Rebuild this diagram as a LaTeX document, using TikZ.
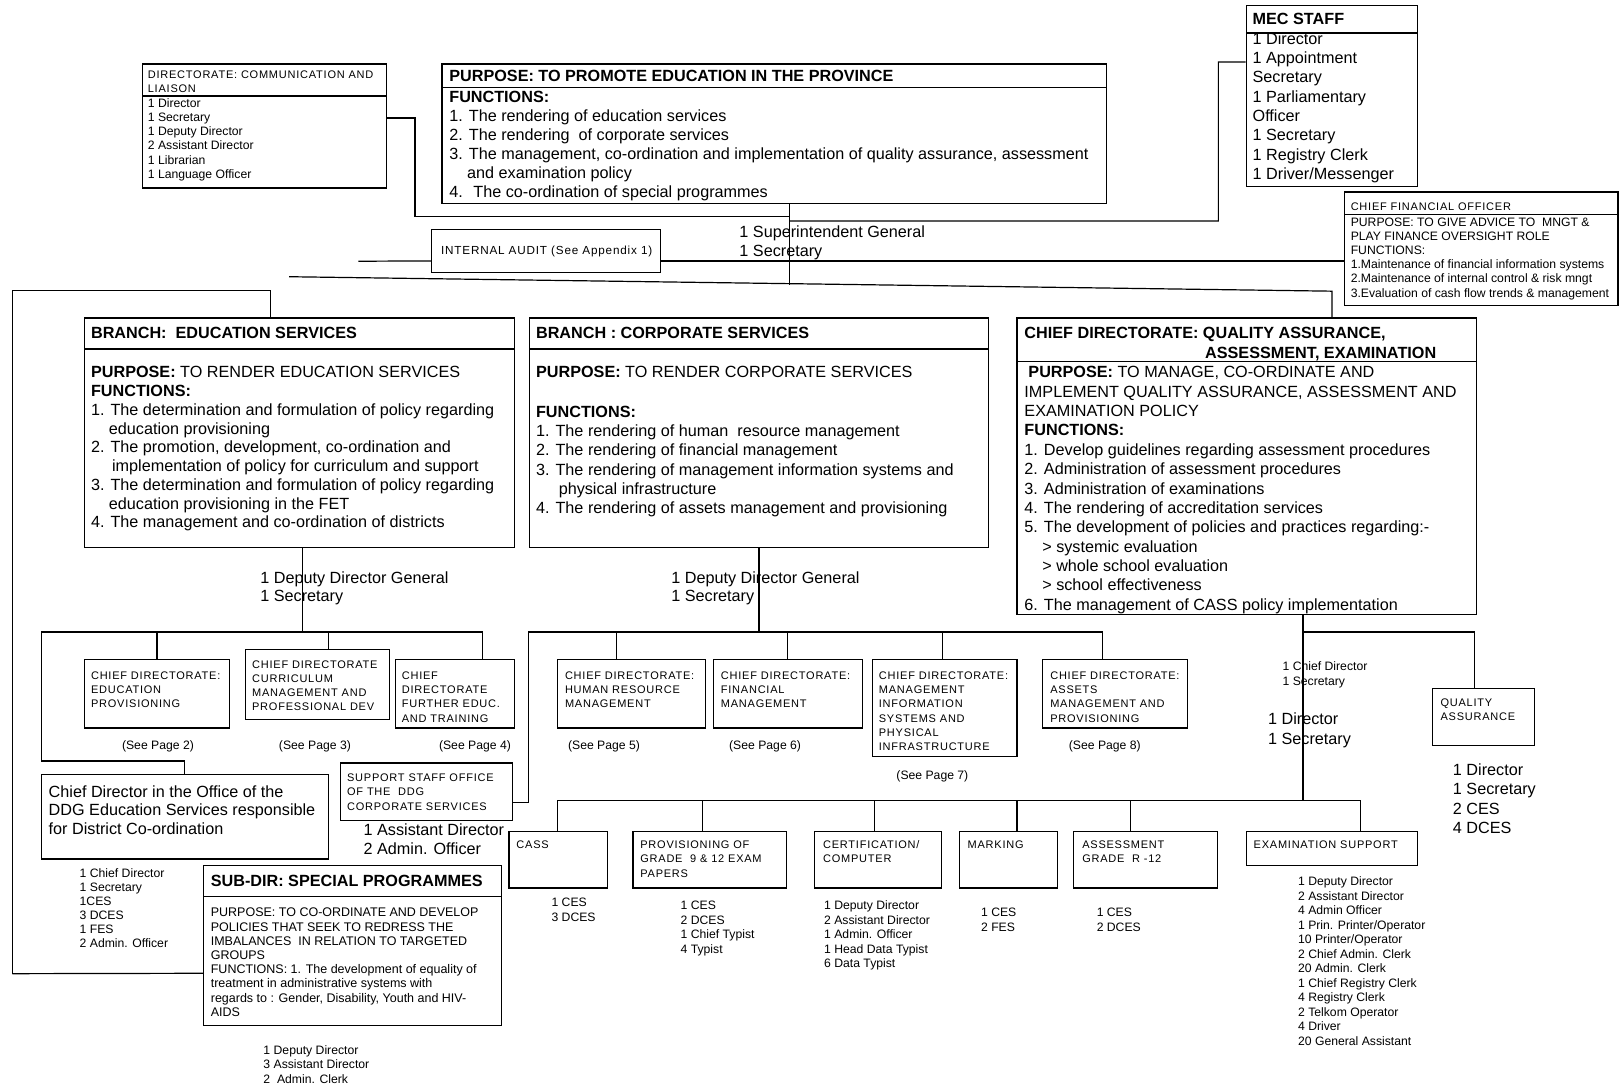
\documentclass[tikz,border=0pt]{standalone}
\usepackage{fontspec}
\setmainfont{Liberation Sans}
\newfontfamily\capsfam[LetterSpace=7]{Liberation Sans}
\usetikzlibrary{fit}
\newcommand\bsz[1]{\fontsize{16.2}{#1}\selectfont}
\newcommand\bodyfont{\bsz{19.4}}
\newcommand\smfont{\fontsize{12.2}{14.5}\selectfont}
\newcommand\capfont{\capsfam\fontsize{11}{14.2}\selectfont}
\newcommand\ml[1]{\begin{tabular}[t]{@{}l@{}}#1\end{tabular}}
\begin{document}
\begin{tikzpicture}[x=1.0325pt,y=-1.0325pt,
  box/.style={draw, line width=1.2pt, inner sep=0pt},
  ln/.style={line width=1.2pt},
  tx/.style={anchor=base west, inner sep=0pt, font=\bodyfont},
  sm/.style={anchor=base west, inner sep=0pt, font=\smfont},
  cp/.style={anchor=base west, inner sep=0pt, font=\capfont},
  pg/.style={anchor=base, inner sep=0pt, font=\smfont},
]
\useasboundingbox (0,0) rectangle (1568,1054);

% ---------- top row ----------
\node[box, fit={(138,62)(374,182)}] (comm) {};
\draw[ln] (138,93) -- (374,93);
\node[cp] (commh) at (143,76) {\ml{DIRECTORATE: COMMUNICATION AND\\LIAISON}};
\node[sm,font=\fontsize{12.2}{14.2}\selectfont] (commt) at (143,104) {\ml{1 Director\\1 Secretary\\1 Deputy Director\\2 Assistant Director\\1 Librarian\\1 Language Officer}};

\node[box, fit={(428,62)(1072,197)}] (purpose) {};
\draw[ln] (428,85) -- (1072,85);
\node[tx] (purh) at (435,79) {\bfseries PURPOSE: TO PROMOTE EDUCATION IN THE PROVINCE};
\node[tx,font=\bsz{19.1}] (purt) at (435,99) {\ml{\textbf{FUNCTIONS:}\\1. The rendering of education services\\2. The rendering \ of corporate services\\3. The management, co-ordination and implementation of quality assurance, assessment\\\hspace*{1.1em}and examination policy\\4. \ The co-ordination of special programmes}};

\node[box, fit={(1207,5)(1373,181)}] (mec) {};
\draw[ln] (1207,32) -- (1373,32);
\node[tx] (mech) at (1213,24) {\bfseries MEC STAFF};
\node[tx,font=\bsz{19.3}] (mect) at (1213,43) {\ml{1 Director\\1 Appointment\\Secretary\\1 Parliamentary\\Officer\\1 Secretary\\1 Registry Clerk\\1 Driver/Messenger}};

\node[box, fit={(418,222)(640,264)}] (audit) {};
\node[cp,font=\capsfam\fontsize{11.7}{14}\selectfont] (auditt) at (427,246) {INTERNAL AUDIT (See Appendix 1)};

\node[tx,font=\bsz{19}] (sg) at (716,230) {\ml{1 Superintendent General\\1 Secretary}};

\node[box, fit={(1302,186)(1567,296)}] (cfo) {};
\draw[ln] (1302,208) -- (1567,208);
\node[cp] (cfoh) at (1308,204) {CHIEF FINANCIAL OFFICER};
\node[sm,font=\fontsize{12.2}{14.2}\selectfont] (cfot) at (1308,219) {\ml{PURPOSE: TO GIVE ADVICE TO \ MNGT \&\\PLAY FINANCE OVERSIGHT ROLE\\FUNCTIONS:\\1.Maintenance of financial information systems\\2.Maintenance of internal control \& risk mngt\\3.Evaluation of cash flow trends \& management}};

% top connectors
\coordinate (mvtop) at (765,197);
\coordinate (mvbot) at (765,276);
\draw[ln] (mvtop) -- (mvbot);
\draw[ln] ([yshift=8pt]comm.east) -| (402,210) -- (765,210);
\draw[ln] (765,214) -| (1180,60) -- ([yshift=34pt]mec.west);
\draw[ln] (347,253) -- ([yshift=-10pt]audit.west);
\draw[ln] ([yshift=-10pt]audit.east) -- ([yshift=-10pt]audit.east -| cfo.west);
\draw[ln] (280,268) -- (1290,282) -- (1290,308);
\draw[ln] (12,943) -- (12,281) -- (262,281) -- (262,308);

% ---------- branches ----------
\node[box, fit={(82,308)(498,530)}] (edu) {};
\draw[ln] (82,338) -- (498,338);
\node[tx] (eduh) at (88,328) {\bfseries BRANCH: \ EDUCATION SERVICES};
\node[tx,font=\bsz{18.75}] (edut) at (88,366) {\ml{\textbf{PURPOSE:} TO RENDER EDUCATION SERVICES\\\textbf{FUNCTIONS:}\\1. The determination and formulation of policy regarding\\\hspace*{1.1em}education provisioning\\2. The promotion, development, co-ordination and\\\hspace*{1.3em}implementation of policy for curriculum and support\\3. The determination and formulation of policy regarding\\\hspace*{1.1em}education provisioning in the FET\\4. The management and co-ordination of districts}};

\node[box, fit={(513,308)(957,530)}] (corp) {};
\draw[ln] (513,338) -- (957,338);
\node[tx] (corph) at (519,328) {\bfseries BRANCH : CORPORATE SERVICES};
\node[tx] (corpp) at (519,366) {\textbf{PURPOSE:} TO RENDER CORPORATE SERVICES};
\node[tx,font=\bsz{19.35}] (corpt) at (519,404) {\ml{\textbf{FUNCTIONS:}\\1. The rendering of human \ resource management\\2. The rendering of financial management\\3. The rendering of management information systems and\\\hspace*{1.4em}physical infrastructure\\4. The rendering of assets management and provisioning}};

\node[box, fit={(985,308)(1430,595)}] (qa) {};
\draw[ln] (985,350) -- (1430,350);
\node[tx] (qah1) at (992,328) {\bfseries CHIEF DIRECTORATE: QUALITY ASSURANCE,};
\node[tx] (qah2) at (1167,347) {\bfseries ASSESSMENT, EXAMINATION};
\node[tx,font=\bsz{19.35}] (qat) at (992,366) {\ml{\hspace*{4pt}\textbf{PURPOSE:} TO MANAGE, CO-ORDINATE AND\\IMPLEMENT QUALITY ASSURANCE, ASSESSMENT AND\\EXAMINATION POLICY\\\textbf{FUNCTIONS:}\\1. Develop guidelines regarding assessment procedures\\2. Administration of assessment procedures\\3. Administration of examinations\\4. The rendering of accreditation services\\5. The development of policies and practices regarding:-\\\hspace*{1.1em}> systemic evaluation\\\hspace*{1.1em}> whole school evaluation\\\hspace*{1.1em}> school effectiveness\\6. The management of CASS policy implementation}};

% ---------- education services subtree ----------
\node[tx,font=\bsz{18.6}] (edudg) at (252,565) {\ml{1 Deputy Director General\\1 Secretary}};
\draw[ln] (293,530) -- (293,612);
\draw[ln] (40,612) -- (468,612);
\node[box, fit={(82,639)(222,705)}] (edprov) {};
\node[box, fit={(238,629)(377,697)}] (curr) {};
\node[box, fit={(383,639)(498,705)}] (fet) {};
\draw[ln] (152,612) -- (152,639);
\draw[ln] (318,612) -- (318,629);
\draw[ln] (467,612) -- (467,639);
\node[cp] (edprovt) at (88,658) {\ml{CHIEF DIRECTORATE:\\EDUCATION\\PROVISIONING}};
\node[cp] (currt) at (244,647) {\ml{CHIEF DIRECTORATE\\CURRICULUM\\MANAGEMENT AND\\PROFESSIONAL DEV}};
\node[cp] (fett) at (389,658) {\ml{CHIEF\\DIRECTORATE\\FURTHER EDUC.\\AND TRAINING}};
\node[pg] (p2) at (153,726) {(See Page 2)};
\node[pg] (p3) at (305,726) {(See Page 3)};
\node[pg] (p4) at (460,726) {(See Page 4)};

\node[box, fit={(40,750)(318,832)}] (cdo) {};
\draw[ln] (40,612) -- (40,737) -- (179,737) -- (179,750);
\node[tx,font=\bsz{18.6}] (cdot) at (47,772) {\ml{Chief Director in the Office of the\\DDG Education Services responsible\\for District Co-ordination}};
\node[sm,font=\fontsize{12.2}{14}\selectfont] (cdos) at (77,850) {\ml{1 Chief Director\\1 Secretary\\1CES\\3 DCES\\1 FES\\2 Admin. Officer}};

\node[box, fit={(197,838)(486,993)}] (subdir) {};
\draw[ln] (197,868) -- (486,868);
\node[tx,font=\bfseries\fontsize{16.2}{18}\selectfont] (subdirh) at (204,859) {SUB-DIR: SPECIAL PROGRAMMES};
\node[sm,font=\fontsize{12.5}{14.2}\selectfont] (subdirt) at (204,888) {\ml{PURPOSE: TO CO-ORDINATE AND DEVELOP\\POLICIES THAT SEEK TO REDRESS THE\\IMBALANCES \ IN RELATION TO TARGETED\\GROUPS\\FUNCTIONS: 1. The development of equality of\\treatment in administrative systems with\\regards to : Gender, Disability, Youth and HIV-\\AIDS}};
\draw[ln] (12,943) -- ([yshift=-28pt]subdir.west);
\node[sm] (subdirs) at (255,1021) {\ml{1 Deputy Director\\3 Assistant Director\\2 \ Admin. Clerk}};

% ---------- corporate services subtree ----------
\node[tx,font=\bsz{18.6}] (corpdg) at (650,565) {\ml{1 Deputy Director General\\1 Secretary}};
\draw[ln] (735,530) -- (735,612);
\node[box, fit={(330,739)(496,795)}] (support) {};
\node[cp] (supportt) at (336,757) {\ml{SUPPORT STAFF OFFICE\\OF THE \ DDG\\CORPORATE SERVICES}};
\node[tx,font=\bsz{19}] (supports) at (352,809) {\ml{1 Assistant Director\\2 Admin. Officer}};
\draw[ln] (support.east |- 0,777) -- (512,777) -- (512,612) -- (1068,612) -- (1068,639);

\node[box, fit={(540,639)(683,705)}] (hr) {};
\node[box, fit={(691,639)(835,705)}] (fin) {};
\node[box, fit={(845,639)(985,733)}] (mis) {};
\node[box, fit={(1010,639)(1150,705)}] (assets) {};
\draw[ln] (597,612) -- (597,639);
\draw[ln] (763,612) -- (763,639);
\draw[ln] (913,612) -- (913,639);
\node[cp] (hrt) at (547,658) {\ml{CHIEF DIRECTORATE:\\HUMAN RESOURCE\\MANAGEMENT}};
\node[cp] (fint) at (698,658) {\ml{CHIEF DIRECTORATE:\\FINANCIAL\\MANAGEMENT}};
\node[cp] (mist) at (851,658) {\ml{CHIEF DIRECTORATE:\\MANAGEMENT\\INFORMATION\\SYSTEMS AND\\PHYSICAL\\INFRASTRUCTURE}};
\node[cp] (assetst) at (1017,658) {\ml{CHIEF DIRECTORATE:\\ASSETS\\MANAGEMENT AND\\PROVISIONING}};
\node[pg] (p5) at (585,726) {(See Page 5)};
\node[pg] (p6) at (741,726) {(See Page 6)};
\node[pg] (p7) at (903,755) {(See Page 7)};
\node[pg] (p8) at (1070,726) {(See Page 8)};

% ---------- quality assurance subtree ----------
\draw[ln] (1262,595) -- (1262,775);
\draw[ln] (1262,612) -- (1428,612) -- (1428,667);
\node[box, fit={(1387,667)(1486,722)}] (qabox) {};
\node[cp] (qaboxt) at (1395,684) {\ml{QUALITY\\ASSURANCE}};
\node[tx,font=\bsz{19.3}] (qas) at (1407,751) {\ml{1 Director\\1 Secretary\\2 CES\\4 DCES}};
\node[sm,font=\fontsize{12.2}{15}\selectfont] (qacd) at (1242,649) {\ml{1 Chief Director\\1 Secretary}};
\node[tx,font=\bsz{19.3}] (qad) at (1228,702) {\ml{1 Director\\1 Secretary}};

\draw[ln] (540,775) -- (1318,775);
\foreach \xx in {540,680,847,985,1095,1318} \draw[ln] (\xx,775) -- (\xx,805);
\node[box, fit={(493,805)(588,860)}] (cass) {};
\node[box, fit={(613,805)(762,860)}] (prov) {};
\node[box, fit={(789,805)(912,860)}] (cert) {};
\node[box, fit={(929,805)(1024,860)}] (mark) {};
\node[box, fit={(1040,805)(1179,860)}] (assess) {};
\node[box, fit={(1207,805)(1373,838)}] (exsup) {};
\node[cp] (casst) at (500,822) {CASS};
\node[cp] (provt) at (620,822) {\ml{PROVISIONING OF\\GRADE \ 9 \& 12 EXAM\\PAPERS}};
\node[cp] (certt) at (797,822) {\ml{CERTIFICATION/\\COMPUTER}};
\node[cp] (markt) at (937,822) {MARKING};
\node[cp] (assesst) at (1048,822) {\ml{ASSESSMENT\\GRADE \ R -12}};
\node[cp] (exsupt) at (1214,822) {EXAMINATION SUPPORT};

\node[sm] (cassl) at (534,878) {\ml{1 CES\\3 DCES}};
\node[sm] (provl) at (659,881) {\ml{1 CES\\2 DCES\\1 Chief Typist\\4 Typist}};
\node[sm] (certl) at (798,881) {\ml{1 Deputy Director\\2 Assistant Director\\1 Admin. Officer\\1 Head Data Typist\\6 Data Typist}};
\node[sm] (markl) at (950,888) {\ml{1 CES\\2 FES}};
\node[sm] (assessl) at (1062,888) {\ml{1 CES\\2 DCES}};
\node[sm] (exsupl) at (1257,858) {\ml{1 Deputy Director\\2 Assistant Director\\4 Admin Officer\\1 Prin. Printer/Operator\\10 Printer/Operator\\2 Chief Admin. Clerk\\20 Admin. Clerk\\1 Chief Registry Clerk\\4 Registry Clerk\\2 Telkom Operator\\4 Driver\\20 General Assistant}};
\end{tikzpicture}
\end{document}
